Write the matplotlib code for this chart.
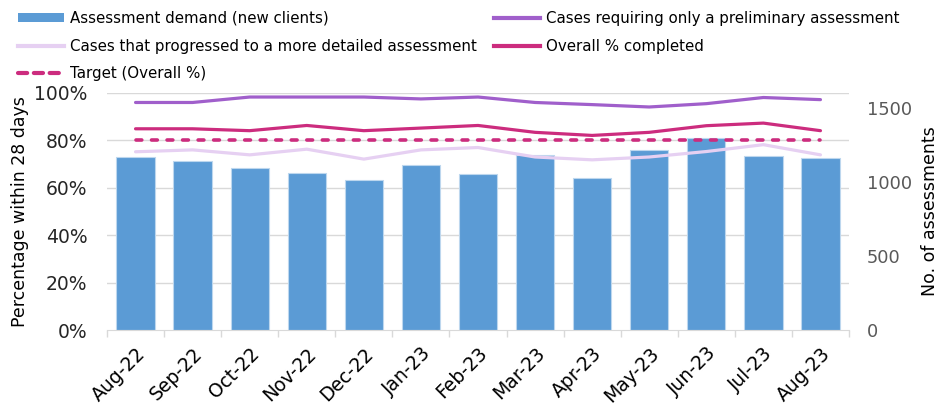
import matplotlib
matplotlib.use("Agg")
import matplotlib.pyplot as plt
from matplotlib.ticker import FixedLocator, PercentFormatter
from matplotlib.lines import Line2D
from matplotlib.patches import Patch
import numpy as np

months = ["Aug-22", "Sep-22", "Oct-22", "Nov-22", "Dec-22", "Jan-23", "Feb-23",
          "Mar-23", "Apr-23", "May-23", "Jun-23", "Jul-23", "Aug-23"]
demand = [1168, 1141, 1094, 1060, 1013, 1114, 1053, 1181, 1026, 1215, 1296, 1175, 1161]
preliminary = [0.960, 0.960, 0.983, 0.983, 0.983, 0.975, 0.983, 0.960, 0.951, 0.941, 0.955, 0.981, 0.972]
detailed = [0.752, 0.760, 0.739, 0.763, 0.721, 0.760, 0.770, 0.730, 0.718, 0.730, 0.753, 0.782, 0.739]
overall = [0.849, 0.849, 0.841, 0.863, 0.841, 0.852, 0.863, 0.834, 0.821, 0.834, 0.862, 0.873, 0.841]
target = [0.80] * len(months)

c_bar = "#5B9BD5"
c_prelim = "#A05FCB"
c_detail = "#E6D0F2"
c_overall = "#CC2C7E"
grid_c = "#D9D9D9"

plt.rcParams["font.family"] = ["DejaVu Sans"]

fig = plt.figure(figsize=(9.4, 4.05), dpi=100)
ax = fig.add_axes([107 / 940, 75 / 405, 742 / 940, 237 / 405])
x = np.arange(len(months))

# bars on the count axis (drawn first)
ax.bar(x, demand, width=0.67, color=c_bar, edgecolor="#BDD7EE", linewidth=0.8, zorder=2)
ax.set_ylim(0, 1600)
ax.set_xlim(-0.5, len(months) - 0.5)

# percentage lines on top
ax2 = ax.twinx()
ax2.plot(x, preliminary, color=c_prelim, linewidth=2.3, solid_capstyle="round")
ax2.plot(x, detailed, color=c_detail, linewidth=2.3, solid_capstyle="round")
ax2.plot(x, overall, color=c_overall, linewidth=2.3, solid_capstyle="round")
ax2.plot(x, target, color=c_overall, linewidth=2.6, linestyle=(0, (1.6, 2.7)), dash_capstyle="round")
ax2.set_ylim(0, 1)

# swap sides: counts on the right, percentages on the left
ax.yaxis.tick_right()
ax.yaxis.set_label_position("right")
ax2.yaxis.tick_left()
ax2.yaxis.set_label_position("left")

ax.set_yticks([0, 500, 1000, 1500])
ax.yaxis.set_minor_locator(FixedLocator(np.linspace(0, 1600, 6)))
ax.grid(which="minor", axis="y", color=grid_c, linewidth=1, zorder=0)
ax.set_axisbelow(True)
ax.tick_params(axis="y", which="both", length=0, pad=13, labelsize=12.8, labelcolor="#595959")
ax.set_ylabel("No. of assessments", fontsize=12.5, labelpad=6)

ax.set_xticks(x)
ax.set_xticklabels(months, rotation=45, ha="right", rotation_mode="anchor", fontsize=13.5)
ax.xaxis.set_minor_locator(FixedLocator(np.arange(-0.5, len(months), 1)))
ax.tick_params(axis="x", which="major", length=0, pad=10)
ax.tick_params(axis="x", which="minor", length=5, color=grid_c, width=1)
for s in ["top", "left", "right"]:
    ax.spines[s].set_visible(False)
ax.spines["bottom"].set_color(grid_c)

ax2.set_yticks(np.linspace(0, 1, 6))
ax2.yaxis.set_major_formatter(PercentFormatter(1.0, decimals=0))
ax2.tick_params(axis="y", length=0, pad=14, labelsize=13.5, labelcolor="#262626")
ax2.set_ylabel("Percentage within 28 days", fontsize=12.5, labelpad=4)
for s in ax2.spines.values():
    s.set_visible(False)

handles = [
    Patch(facecolor=c_bar, edgecolor="none"),
    Line2D([], [], color=c_detail, linewidth=3),
    Line2D([], [], color=c_overall, linewidth=3, linestyle=(0, (2.2, 1.6)), dash_capstyle="round"),
    Line2D([], [], color=c_prelim, linewidth=3),
    Line2D([], [], color=c_overall, linewidth=3),
]
labels = [
    "Assessment demand (new clients)",
    "Cases that progressed to a more detailed assessment",
    "Target (Overall %)",
    "Cases requiring only a preliminary assessment",
    "Overall % completed",
]
fig.legend(handles, labels, loc="upper left", bbox_to_anchor=(0.0126, 0.988), ncol=2,
           frameon=False, handlelength=3.1, handleheight=0.6, handletextpad=0.4,
           columnspacing=1.1, labelspacing=0.85, borderaxespad=0,
           prop={"family": "DejaVu Sans", "size": 10.8})

fig.savefig("out.png", dpi=100)
